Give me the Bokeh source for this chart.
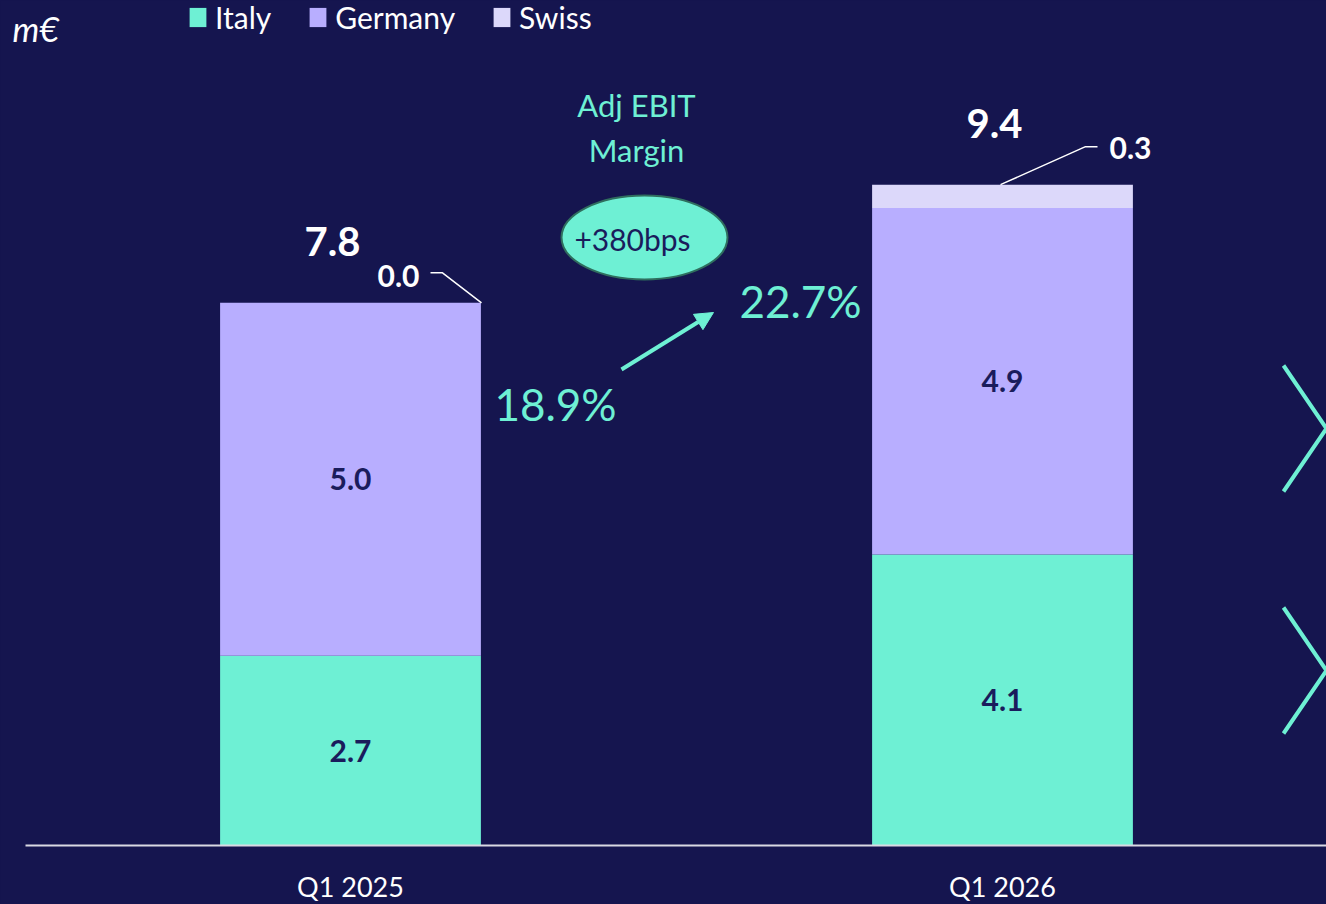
from bokeh.plotting import figure
from bokeh.models import ColumnDataSource, Range1d, Legend, LegendItem, Arrow, NormalHead
from bokeh.core.properties import value
from bokeh.embed import file_html
from bokeh.resources import INLINE

# ---- data ----
categories = ["Q1 2025", "Q1 2026"]
segments = ["Italy", "Germany", "Swiss"]
italy = [2.70, 4.14]
germany = [5.02, 4.93]
swiss = [0.0, 0.33]
totals = [7.8, 9.4]
margins = ["18.9%", "22.7%"]
margin_change = "+380bps"
unit_label = "m€"
margin_title = ["Adj EBIT", "Margin"]

# ---- style ----
BG = "#15154f"
TEAL = "#6ef0d4"
LAV = "#b8aeff"
SWISS = "#dcd8fa"
DARK = "#1a1c5c"
FONT = "Lato"

W, H = 1326, 904
PXX = 652.0   # px per category step
K = 70.3      # px per m€
x0 = -350.0 / PXX
BASE = 845.0  # baseline pixel (from figure top)


def X(px):
    return x0 + px / PXX


def Y(py):
    return (BASE - py) / K


p = figure(width=W, height=H, x_range=Range1d(x0, x0 + W / PXX),
           y_range=Range1d(-(H - BASE) / K, BASE / K),
           output_backend="svg", toolbar_location=None, min_border=0,
           x_axis_location=None, y_axis_location=None,
           background_fill_color=BG, border_fill_color=BG, outline_line_color=None)
p.grid.visible = False

xs = [0, 1]
src = ColumnDataSource(dict(x=xs, cat=categories, Italy=italy, Germany=germany, Swiss=swiss))
rs = p.vbar_stack(segments, x="x", width=0.40, color=[TEAL, LAV, SWISS], line_color=None, source=src)

# baseline
p.segment(x0=[X(25)], y0=[0], x1=[X(1340)], y1=[0], line_color="#d9d9e3", line_width=2)

# category labels
p.text(x=xs, y=[-41 / K] * 2, text=categories, text_font=value(FONT), text_font_size="27px",
       text_color="white", text_align="center", text_baseline="middle")

# segment labels
seg_y = [italy[i] / 2 for i in range(2)] + [italy[i] + germany[i] / 2 for i in range(2)]
seg_t = [f"{v:.1f}" for v in italy] + [f"{v:.1f}" for v in germany]
p.text(x=xs + xs, y=seg_y, text=seg_t, text_font=value(FONT), text_font_size="30px",
       text_font_style="bold", text_color=DARK, text_align="center", text_baseline="middle")

# totals
tops = [italy[i] + germany[i] + swiss[i] for i in range(2)]
p.text(x=[xs[0] - 18 / PXX, xs[1] - 8 / PXX], y=[t + 61 / K for t in tops],
       text=[f"{t:.1f}" for t in totals], text_font=value(FONT), text_font_size="40px",
       text_font_style="bold", text_color="white", text_align="center", text_baseline="middle")

# swiss small labels with leader lines
p.text(x=[xs[0] + 48 / PXX, xs[1] + 128 / PXX], y=[tops[0] + 27 / K, tops[1] + 37 / K],
       text=[f"{v:.1f}" for v in swiss], text_font=value(FONT), text_font_size="30px",
       text_font_style="bold", text_color="white", text_align="center", text_baseline="middle")
p.line(x=[xs[0] + 131 / PXX, xs[0] + 92 / PXX, xs[0] + 80 / PXX],
       y=[tops[0], tops[0] + 30 / K, tops[0] + 30 / K], line_color="white", line_width=1.5)
p.line(x=[xs[1] - 2 / PXX, xs[1] + 83 / PXX, xs[1] + 95 / PXX],
       y=[tops[1], tops[1] + 38 / K, tops[1] + 38 / K], line_color="white", line_width=1.5)

# unit label
p.text(x=[X(12)], y=[Y(28)], text=[unit_label], text_font=value(FONT), text_font_size="34px",
       text_font_style="italic", text_color="white", text_align="left", text_baseline="middle")

# margin annotation
p.text(x=[X(636)] * 2, y=[Y(104), Y(149)], text=margin_title, text_font=value(FONT),
       text_font_size="31px", text_color=TEAL, text_align="center", text_baseline="middle")
p.ellipse(x=[X(644)], y=[Y(237)], width=166, height=84, width_units="screen", height_units="screen",
          fill_color=TEAL, line_color="#2f6e5e", line_width=2)
p.text(x=[X(632)], y=[Y(238)], text=[margin_change], text_font=value(FONT), text_font_size="30px",
       text_color=DARK, text_align="center", text_baseline="middle")
p.text(x=[X(555), X(800)], y=[Y(403), Y(300)], text=margins, text_font=value(FONT),
       text_font_size="44px", text_color=TEAL, text_align="center", text_baseline="middle")
p.add_layout(Arrow(end=NormalHead(size=18, fill_color=TEAL, line_color=TEAL),
                   x_start=X(621), y_start=Y(369), x_end=X(713), y_end=Y(312),
                   line_color=TEAL, line_width=4))

# chevrons
for cy in (428, 670):
    p.line(x=[X(1283), X(1326), X(1283)], y=[Y(cy - 63), Y(cy), Y(cy + 63)],
           line_color=TEAL, line_width=4)

legend = Legend(items=[LegendItem(label=s, renderers=[r]) for s, r in zip(segments, rs)],
                orientation="horizontal", location=(187, H - 18 - 17),
                background_fill_alpha=0, border_line_color=None, label_text_color="white",
                label_text_font=FONT, label_text_font_size="30px", glyph_width=21, glyph_height=24,
                spacing=36, label_standoff=7, padding=0, margin=0)
p.add_layout(legend)

html = file_html(p, INLINE)
html = html.replace("<head>", "<head><style>body{background:#15154f;}</style>", 1)
open("out.html", "w").write(html)
